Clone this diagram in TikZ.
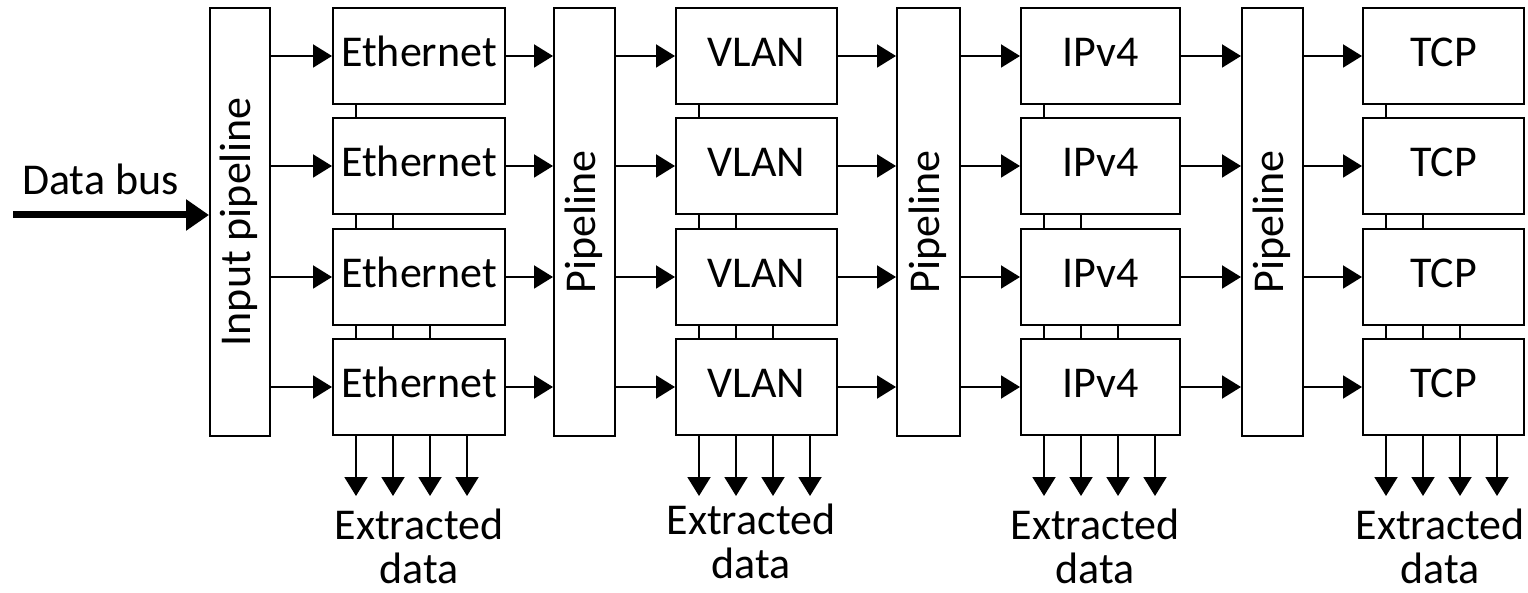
\documentclass[tikz,border=0pt]{standalone}
\usepackage{fontspec}
\setmainfont{Carlito}
\usetikzlibrary{arrows.meta,calc}
\begin{document}
\begin{tikzpicture}[x=1pt,y=-1pt,
  every node/.style={font=\fontsize{44}{46}\selectfont},
  stage/.style={draw,line width=2pt,minimum height=96pt,inner sep=0pt,text height=25pt,text depth=4pt},
  pipe/.style={draw,line width=2pt,minimum width=61pt,minimum height=428pt,inner sep=0pt},
  pipetext/.style={rotate=90,text height=25pt,text depth=4pt,inner sep=0pt},
  arr/.style={line width=2pt,-{Triangle[length=19pt,width=23pt]}},
  link/.style={line width=2pt},
  outtext/.style={anchor=north,align=center,inner sep=0pt,font=\fontsize{44}{44}\selectfont}
  ]
\useasboundingbox (0,0) rectangle (1528,593);

% pipelines
\node[pipe,minimum width=60pt] (P1) at (240,222) {};
\node[pipe] (P2) at (584.5,222) {};
\node[pipe,minimum width=63pt] (P3) at (928.5,222) {};
\node[pipe] (P4) at (1272.5,222) {};
\node[pipetext] (L1) at (P1) {Input pipeline};
\node[pipetext] (L2) at (P2) {Pipeline};
\node[pipetext] (L3) at (P3) {Pipeline};
\node[pipetext] (L4) at (P4) {Pipeline};

% stages
\foreach \r/\y in {1/56,2/166,3/277,4/387}{
  \node[stage,minimum width=172pt] (E\r) at (419,\y) {Ethernet};
  \node[stage,minimum width=161pt] (V\r) at (756.5,\y) {VLAN};
  \node[stage,minimum width=159pt] (I\r) at (1100.5,\y) {IPv4};
  \node[stage,minimum width=161pt] (T\r) at (1443.5,\y) {TCP};
  \draw[arr] (P1.east |- E\r.west) -- (E\r.west);
  \draw[arr] (E\r.east) -- (P2.west |- E\r.east);
  \draw[arr] (P2.east |- V\r.west) -- (V\r.west);
  \draw[arr] (V\r.east) -- (P3.west |- V\r.east);
  \draw[arr] (P3.east |- I\r.west) -- (I\r.west);
  \draw[arr] (I\r.east) -- (P4.west |- I\r.east);
  \draw[arr] (P4.east |- T\r.west) -- (T\r.west);
}

% links between stacked stages and extracted data arrows
\foreach \c in {E,V,I,T}{
  \draw[link] ($(\c1.south west)+(24,0)$) -- ($(\c2.north west)+(24,0)$);
  \foreach \o in {24,61}
    \draw[link] ($(\c2.south west)+(\o,0)$) -- ($(\c3.north west)+(\o,0)$);
  \foreach \o in {24,61,98}
    \draw[link] ($(\c3.south west)+(\o,0)$) -- ($(\c4.north west)+(\o,0)$);
  \foreach \o in {24,61,98,135}
    \draw[arr] ($(\c4.south west)+(\o,0)$) -- ++(0,60);
}

\node[outtext] (xE) at (419,509) {Extracted\\data};
\node[outtext] (xV) at (751,504) {Extracted\\data};
\node[outtext] (xI) at (1095,509) {Extracted\\data};
\node[outtext] (xT) at (1440,509) {Extracted\\data};

% data bus
\node[anchor=base west,inner sep=0pt] (db) at (22,195) {Data bus};
\coordinate (busin) at (13,215);
\draw[line width=7pt,-{Triangle[length=23pt,width=30pt]}] (busin) -- (P1.west |- busin);
\end{tikzpicture}
\end{document}
